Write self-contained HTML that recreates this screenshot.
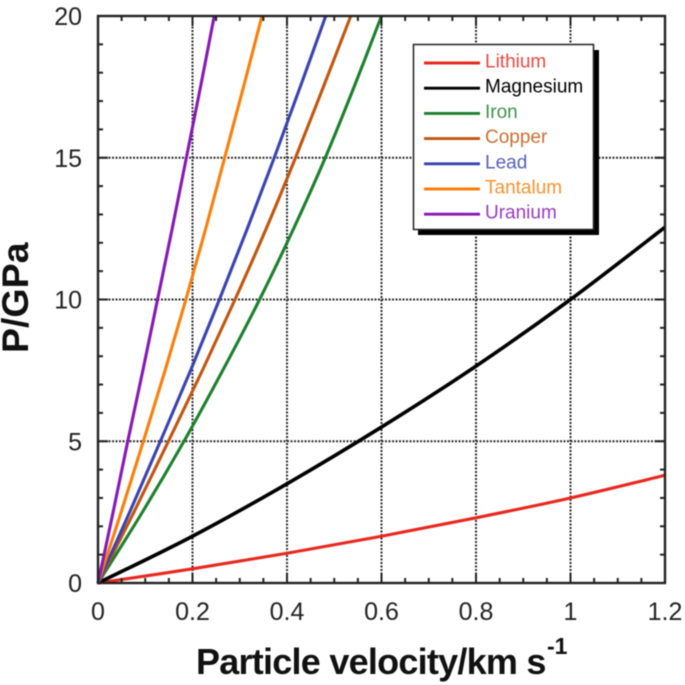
<!DOCTYPE html>
<html lang="en">
<head>
<meta charset="utf-8">
<title>Particle velocity chart</title>
<style>
html,body{margin:0;padding:0;background:#fff}
svg{display:block;font-family:"Liberation Sans",Arial,sans-serif;filter:blur(0.4px)}
</style>
</head>
<body>
<svg id="chart" xmlns="http://www.w3.org/2000/svg" width="685" height="685" viewBox="0 0 685 685"></svg>
<script>
const xTickValues = [0, 0.2, 0.4, 0.6, 0.8, 1, 1.2];
const yTickValues = [0, 5, 10, 15, 20];
const xMinorValues = [0.05, 0.1, 0.15, 0.25, 0.3, 0.35, 0.45, 0.5, 0.55, 0.65, 0.7, 0.75, 0.85, 0.9, 0.95, 1.05, 1.1, 1.15];
const yMinorValues = [1, 2, 3, 4, 6, 7, 8, 9, 11, 12, 13, 14, 16, 17, 18, 19];
const seriesNames = ["Lithium", "Magnesium", "Iron", "Copper", "Lead", "Tantalum", "Uranium"];
const seriesColors = ["#e8281e", "#000000", "#1d7f2e", "#c0560f", "#3a43ae", "#f77f0c", "#8619b4"];
const lithiumU = [0, 0.2, 0.4, 0.6, 0.8, 1, 1.2];
const lithiumP = [0, 0.5, 1.05, 1.65, 2.3, 3, 3.8];
const magnesiumU = [0, 0.2, 0.4, 0.6, 0.8, 1, 1.2];
const magnesiumP = [0, 1.65, 3.5, 5.5, 7.65, 10, 12.55];
const steepP = [0, 2.5, 5, 7.5, 10, 12.5, 15, 17.5, 20];
const ironU = [0, 0.094, 0.182, 0.264, 0.342, 0.414, 0.481, 0.542, 0.6];
const copperU = [0, 0.076, 0.149, 0.221, 0.29, 0.356, 0.418, 0.477, 0.535];
const leadU = [0, 0.067, 0.132, 0.196, 0.257, 0.316, 0.373, 0.428, 0.482];
const tantalumU = [0, 0.049, 0.096, 0.142, 0.186, 0.228, 0.268, 0.308, 0.347];
const uraniumU = [0, 0.032, 0.063, 0.095, 0.126, 0.157, 0.187, 0.217, 0.246];

const svg = document.getElementById('chart');
const NS = 'http://www.w3.org/2000/svg';
const left = 98, right = 665, top_ = 16, bottom = 583;
const xMax = 1.2, yMax = 20;
function sx(v) { return left + (v / xMax) * (right - left); }
function sy(v) { return bottom - (v / yMax) * (bottom - top_); }
function mk(tag, props, parent) {
  const el = document.createElementNS(NS, tag);
  for (const k in props) el.setAttribute(k, props[k]);
  (parent || svg).appendChild(el);
  return el;
}

// grid
const gridGroup = mk('g', {stroke: '#2c2c2c', 'stroke-width': 2, 'stroke-dasharray': '2 1.5', fill: 'none'});


xTickValues.slice(1, -1).forEach(function (v) {
  const g = mk('line', {x1: sx(v), x2: sx(v), y1: top_, y2: bottom}, gridGroup);
  
  
});
yTickValues.slice(1, -1).forEach(function (v) {
  const g = mk('line', {x1: left, x2: right, y1: sy(v), y2: sy(v)}, gridGroup);
  
  
});

// series
const seriesU = [lithiumU, magnesiumU, ironU, copperU, leadU, tantalumU, uraniumU];
const seriesP = [lithiumP, magnesiumP, steepP, steepP, steepP, steepP, steepP];
function curvePath(us, ps) {
  const pts = us.map(function (u, i) { return [sx(u), sy(ps[i])]; });
  let d = 'M' + pts[0][0] + ' ' + pts[0][1];
  for (let i = 0; i < pts.length - 1; i++) {
    const p0 = pts[Math.max(i - 1, 0)], p1 = pts[i], p2 = pts[i + 1], p3 = pts[Math.min(i + 2, pts.length - 1)];
    d += ' C' + (p1[0] + (p2[0] - p0[0]) / 6) + ' ' + (p1[1] + (p2[1] - p0[1]) / 6) + ' ' +
      (p2[0] - (p3[0] - p1[0]) / 6) + ' ' + (p2[1] - (p3[1] - p1[1]) / 6) + ' ' + p2[0] + ' ' + p2[1];
  }
  return d;
}
seriesNames.forEach(function (name, i) {
  const path = mk('path', {d: curvePath(seriesU[i], seriesP[i]), fill: 'none', stroke: seriesColors[i], 'stroke-width': name === 'Magnesium' ? 3.6 : 3.1});
  
  
});

// ticks
const tickGroup = mk('g', {stroke: '#222', 'stroke-width': 2, fill: 'none'});


xMinorValues.forEach(function (v) {
  mk('line', {x1: sx(v), x2: sx(v), y1: bottom, y2: bottom - 5}, tickGroup);
  mk('line', {x1: sx(v), x2: sx(v), y1: top_, y2: top_ + 5}, tickGroup);
});
yMinorValues.forEach(function (v) {
  mk('line', {x1: left, x2: left + 5, y1: sy(v), y2: sy(v)}, tickGroup);
  mk('line', {x1: right, x2: right - 5, y1: sy(v), y2: sy(v)}, tickGroup);
});
xTickValues.slice(1, -1).forEach(function (v) {
  mk('line', {x1: sx(v), x2: sx(v), y1: bottom, y2: bottom - 10}, tickGroup);
  mk('line', {x1: sx(v), x2: sx(v), y1: top_, y2: top_ + 10}, tickGroup);
});
yTickValues.slice(1, -1).forEach(function (v) {
  mk('line', {x1: left, x2: left + 10, y1: sy(v), y2: sy(v)}, tickGroup);
  mk('line', {x1: right, x2: right - 10, y1: sy(v), y2: sy(v)}, tickGroup);
});

// frame
const frame = mk('rect', {x: left, y: top_, width: right - left, height: bottom - top_, fill: 'none', stroke: '#222', 'stroke-width': 2.4});



// tick labels
xTickValues.forEach(function (v) {
  const t = mk('text', {x: sx(v), y: 620, 'text-anchor': 'middle', 'font-size': 25, fill: '#222'});
  t.textContent = String(v);
  
  
});
yTickValues.forEach(function (v) {
  const t = mk('text', {x: 82, y: sy(v) + 9, 'text-anchor': 'end', 'font-size': 25, fill: '#222'});
  t.textContent = String(v);
  
  
});

// axis titles
const xTitle = mk('text', {x: 196, y: 674, 'font-size': 36, 'font-weight': 'bold', fill: '#111', 'letter-spacing': '-0.75'});


xTitle.textContent = 'Particle velocity/km s';
const xSup = mk('text', {x: 547, y: 654, 'font-size': 23, 'font-weight': 'bold', fill: '#111'});


xSup.textContent = '-1';
const yTitle = mk('text', {x: 0, y: 0, 'font-size': 37.5, 'font-weight': 'bold', fill: '#111', transform: 'translate(28,353) rotate(-90)'});


yTitle.textContent = 'P/GPa';

// legend
const legend = mk('g', {});


const legendShadow = mk('rect', {x: 418, y: 50, width: 181, height: 185, fill: '#000'}, legend);


const legendBox = mk('rect', {x: 413.5, y: 44.5, width: 180, height: 185, fill: '#fff', stroke: '#222', 'stroke-width': 1.5}, legend);


seriesNames.forEach(function (name, i) {
  const y = 63 + i * 25.2;
  const sw = mk('line', {x1: 424, x2: 480, y1: y, y2: y, stroke: seriesColors[i], 'stroke-width': 2.9}, legend);
  
  
  const t = mk('text', {x: 485, y: y + 4.5, 'font-size': 19, fill: seriesColors[i], 'fill-opacity': i === 1 ? 1 : 0.85}, legend);
  t.textContent = name;
  
  
});
</script>
</body>
</html>
